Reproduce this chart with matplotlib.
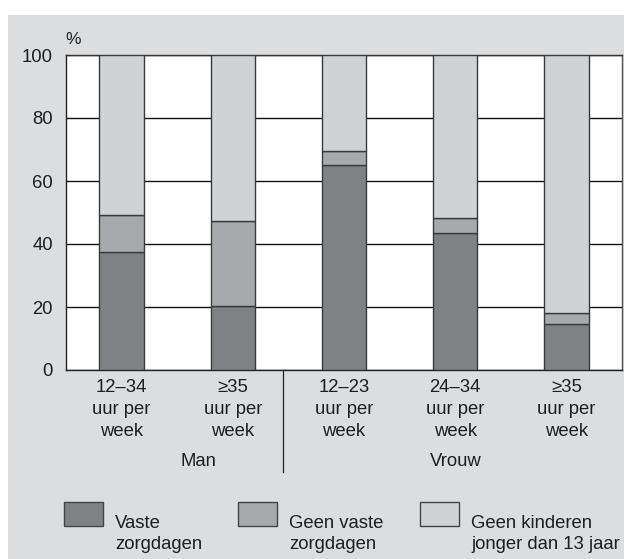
import matplotlib
matplotlib.use("Agg")
import matplotlib.pyplot as plt
from matplotlib.patches import Rectangle
from matplotlib.lines import Line2D

plt.rcParams['font.family'] = ['Liberation Sans', 'DejaVu Sans']

categories = ["12–34\nuur per\nweek", "≥35\nuur per\nweek", "12–23\nuur per\nweek",
              "24–34\nuur per\nweek", "≥35\nuur per\nweek"]
groups = ["Man", "Vrouw"]
vaste = [37.5, 20.3, 65.0, 43.6, 14.7]
geen_vaste = [11.8, 27.0, 4.6, 4.7, 3.5]
geen_kinderen = [50.7, 52.7, 30.4, 51.7, 81.8]
series_labels = ["Vaste\nzorgdagen", "Geen vaste\nzorgdagen", "Geen kinderen\njonger dan 13 jaar"]
yticks = [0, 20, 40, 60, 80, 100]

colors = ["#808185", "#a8a9ac", "#d1d2d4"]
edge = "#3a3a3a"
txt = "#1e1e1e"
FS = 13.3
W, H = 624, 559
fig = plt.figure(figsize=(W / 100, H / 100), dpi=100)
fig.patch.set_facecolor("white")

def fx(x):
    return x / W

def fy(y):
    return 1 - y / H

# grey panel
fig.add_artist(Rectangle((fx(8), 0), fx(616), 1 - 15 / H, transform=fig.transFigure,
                         facecolor="#dcdddf", edgecolor="none", zorder=-10))

ax = fig.add_axes([fx(66), fy(370), fx(556), (370 - 55) / H])
ax.set_facecolor("white")
x = list(range(len(categories)))
series = [vaste, geen_vaste, geen_kinderen]
bottom = [0] * len(x)
for vals, c in zip(series, colors):
    ax.bar(x, vals, width=0.4, bottom=bottom, color=c, edgecolor=edge, linewidth=1.0, zorder=3)
    bottom = [b + v for b, v in zip(bottom, vals)]

ax.set_xlim(-0.5, 4.5)
ax.set_ylim(0, 100)
ax.set_yticks(yticks)
ax.set_yticklabels([str(t) for t in yticks])
ax.set_xticks(x)
ax.set_xticklabels(categories, linespacing=1.38)
ax.tick_params(axis="both", length=0, labelsize=FS, colors=txt)
ax.tick_params(axis="y", pad=9.4)
ax.tick_params(axis="x", pad=6.3)
ax.yaxis.grid(True, color="#111111", linewidth=1.0, zorder=1)
ax.set_axisbelow(True)
for s in ["left", "bottom"]:
    ax.spines[s].set_color("#222222")
    ax.spines[s].set_linewidth(1.0)
ax.spines["top"].set_color("#333333")
ax.spines["top"].set_linewidth(1.0)
ax.spines["right"].set_color("#555555")
ax.spines["right"].set_linewidth(1.0)

fig.text(fx(65), fy(39.5), "%", ha="left", va="center", fontsize=12.5, color=txt)

# group labels and separator
fig.text(fx(198), fy(461), groups[0], ha="center", va="center", fontsize=FS, color=txt)
fig.text(fx(456), fy(461), groups[1], ha="center", va="center", fontsize=FS, color=txt)
fig.add_artist(Line2D([fx(282.5), fx(282.5)], [fy(370), fy(472)], transform=fig.transFigure,
                      color="#222222", linewidth=0.9))

# legend
leg_x = [64, 238, 420]
for lx, c, lab in zip(leg_x, colors, series_labels):
    fig.add_artist(Rectangle((fx(lx), fy(526)), fx(39), (526 - 502) / H, transform=fig.transFigure,
                             facecolor=c, edgecolor="#444444", linewidth=1.0))
    fig.text(fx(lx + 51), fy(534), lab, ha="left", va="center", fontsize=FS,
             linespacing=1.38, color=txt)

fig.savefig("out.png", dpi=100)
